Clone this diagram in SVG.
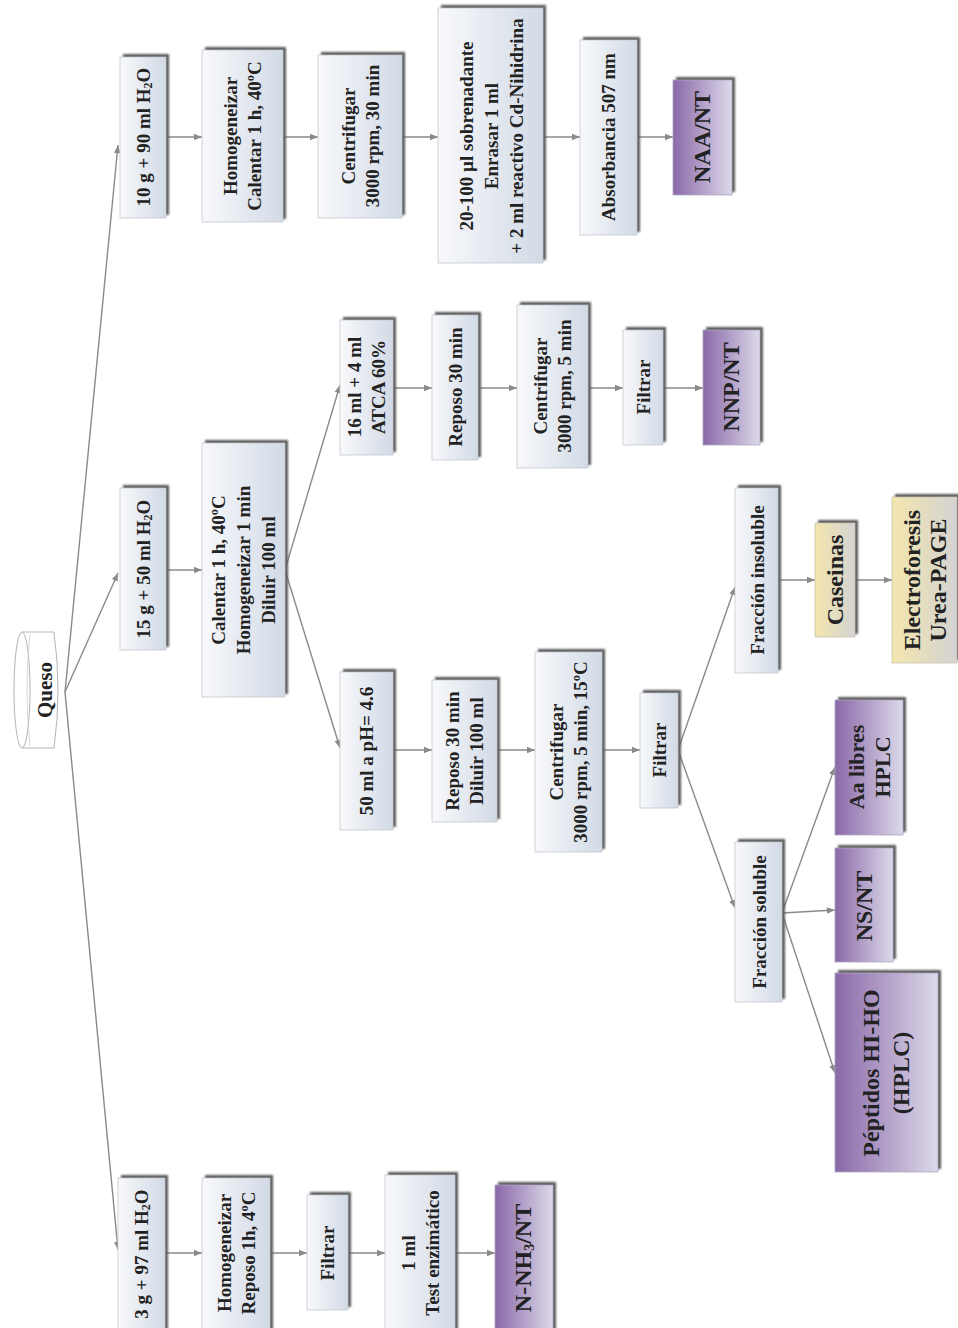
<svg xmlns="http://www.w3.org/2000/svg" width="958" height="1328" viewBox="0 0 958 1328">
<defs>
<linearGradient id="gBox" x1="0" y1="0" x2="1" y2="0">
<stop offset="0" stop-color="#f8f9fb"/><stop offset="1" stop-color="#d2dae6"/>
</linearGradient>
<linearGradient id="gPur" x1="0" y1="0" x2="1" y2="0">
<stop offset="0" stop-color="#8a68a8"/><stop offset="1" stop-color="#dcd9e9"/>
</linearGradient>
<linearGradient id="gYel" x1="0" y1="0" x2="1" y2="0">
<stop offset="0" stop-color="#f4e6ad"/><stop offset="1" stop-color="#d3d3d3"/>
</linearGradient>
<filter id="sh" x="-20%" y="-20%" width="140%" height="140%"><feGaussianBlur stdDeviation="1.2"/></filter>
<marker id="ah" viewBox="0 0 10 10" refX="10" refY="5" markerWidth="9" markerHeight="8" markerUnits="userSpaceOnUse" orient="auto"><path d="M0,1 L10,5 L0,9 z" fill="#8a8a8a"/></marker>
</defs>
<style>
.sd{fill:#5a5a5a;filter:url(#sh)}
.bx{fill:url(#gBox);stroke:#c4c8cf;stroke-width:0.8}
.pu{fill:url(#gPur);stroke:#b0a8c4;stroke-width:0.8}
.ye{fill:url(#gYel);stroke:#c8c4b0;stroke-width:0.8}
text{font-family:"Liberation Serif","DejaVu Serif",serif;font-weight:bold;fill:#222;text-anchor:middle;dominant-baseline:central}
.t{font-size:19px}
.tb{font-size:24px}
.ln{stroke:#8a8a8a;stroke-width:1.4;fill:none}
.ar{marker-end:url(#ah)}
</style>
<rect width="958" height="1328" fill="#ffffff"/>

<g id="connectors">
<line class="ln ar" x1="65" y1="692" x2="118" y2="145"/>
<line class="ln ar" x1="65" y1="692" x2="118" y2="573"/>
<line class="ln ar" x1="65" y1="692" x2="118" y2="1250"/>
<line class="ln ar" x1="166" y1="137" x2="202" y2="137"/>
<line class="ln ar" x1="283" y1="137" x2="318" y2="137"/>
<line class="ln ar" x1="402" y1="137" x2="438" y2="137"/>
<line class="ln ar" x1="543" y1="137" x2="580" y2="137"/>
<line class="ln ar" x1="637" y1="137" x2="673" y2="137"/>
<line class="ln ar" x1="166" y1="570" x2="202" y2="570"/>
<line class="ln ar" x1="285" y1="570" x2="340" y2="385"/>
<line class="ln ar" x1="285" y1="570" x2="340" y2="748"/>
<line class="ln ar" x1="393" y1="388" x2="432" y2="388"/>
<line class="ln ar" x1="478" y1="388" x2="517" y2="388"/>
<line class="ln ar" x1="588" y1="388" x2="623" y2="388"/>
<line class="ln ar" x1="663" y1="388" x2="703" y2="388"/>
<line class="ln ar" x1="393" y1="750" x2="432" y2="750"/>
<line class="ln ar" x1="497" y1="750" x2="535" y2="750"/>
<line class="ln ar" x1="602" y1="750" x2="640" y2="750"/>
<line class="ln ar" x1="678" y1="750" x2="735" y2="587"/>
<line class="ln ar" x1="678" y1="750" x2="735" y2="908"/>
<line class="ln ar" x1="778" y1="580" x2="815" y2="580"/>
<line class="ln ar" x1="855" y1="580" x2="892" y2="580"/>
<line class="ln ar" x1="782" y1="913" x2="835" y2="767"/>
<line class="ln ar" x1="782" y1="913" x2="835" y2="910"/>
<line class="ln ar" x1="782" y1="913" x2="835" y2="1073"/>
<line class="ln ar" x1="165" y1="1253" x2="202" y2="1253"/>
<line class="ln ar" x1="270" y1="1253" x2="307" y2="1253"/>
<line class="ln ar" x1="348" y1="1253" x2="385" y2="1253"/>
<line class="ln ar" x1="455" y1="1253" x2="495" y2="1253"/>
</g>

<g id="queso">
<path d="M22,632 L54,632 Q62,690 54,748 L22,748" fill="#ffffff" stroke="#b5b5b5" stroke-width="1"/>
<ellipse cx="22" cy="690" rx="8" ry="58" fill="#ffffff" stroke="#b5b5b5" stroke-width="1"/>
<path d="M30,634 Q24,690 30,746" fill="none" stroke="#cfcfcf" stroke-width="0.8"/>
<text transform="translate(45,690) rotate(-90)" style="font-size:21px">Queso</text>
</g>

<!-- Branch 1 -->
<g id="n1a">
<rect class="sd" x="123" y="54" width="46" height="161"/><rect class="bx" x="120" y="57" width="46" height="161"/>
<text class="t" transform="translate(143,137) rotate(-90)">10 g + 90 ml H<tspan dy="5" font-size="12">2</tspan><tspan dy="-5">O</tspan></text>
</g>
<g id="n1b">
<rect class="sd" x="205" y="47" width="81" height="172"/><rect class="bx" x="202" y="50" width="81" height="172"/>
<text class="t" transform="translate(242,136) rotate(-90)"><tspan x="0" y="-12">Homogeneizar</tspan><tspan x="0" y="12">Calentar 1 h, 40ºC</tspan></text>
</g>
<g id="n1c">
<rect class="sd" x="321" y="52" width="84" height="163"/><rect class="bx" x="318" y="55" width="84" height="163"/>
<text class="t" transform="translate(360,136) rotate(-90)"><tspan x="0" y="-12">Centrifugar</tspan><tspan x="0" y="12">3000 rpm, 30 min</tspan></text>
</g>
<g id="n1d">
<rect class="sd" x="441" y="5" width="105" height="255"/><rect class="bx" x="438" y="8" width="105" height="255"/>
<text class="t" transform="translate(491,136) rotate(-90)"><tspan x="0" y="-25">20-100 µl sobrenadante</tspan><tspan x="0" y="0">Enrasar 1 ml</tspan><tspan x="0" y="25">+ 2 ml reactivo Cd-Nihidrina</tspan></text>
</g>
<g id="n1e">
<rect class="sd" x="583" y="37" width="57" height="195"/><rect class="bx" x="580" y="40" width="57" height="195"/>
<text class="t" transform="translate(608,137) rotate(-90)">Absorbancia 507 nm</text>
</g>
<g id="n1f">
<rect class="sd" x="676" y="77" width="59" height="115"/><rect class="pu" x="673" y="80" width="59" height="115"/>
<text class="tb" transform="translate(702,137) rotate(-90)">NAA/NT</text>
</g>

<!-- Branch 2 -->
<g id="n2a">
<rect class="sd" x="123" y="485" width="46" height="162"/><rect class="bx" x="120" y="488" width="46" height="162"/>
<text class="t" transform="translate(143,569) rotate(-90)">15 g + 50 ml H<tspan dy="5" font-size="12">2</tspan><tspan dy="-5">O</tspan></text>
</g>
<g id="n2b">
<rect class="sd" x="205" y="440" width="83" height="254"/><rect class="bx" x="202" y="443" width="83" height="254"/>
<text class="t" transform="translate(243,570) rotate(-90)"><tspan x="0" y="-25">Calentar 1 h, 40ºC</tspan><tspan x="0" y="0">Homogeneizar 1 min</tspan><tspan x="0" y="25">Diluir 100 ml</tspan></text>
</g>
<g id="n2c">
<rect class="sd" x="343" y="317" width="53" height="135"/><rect class="bx" x="340" y="320" width="53" height="135"/>
<text class="t" transform="translate(366,387) rotate(-90)"><tspan x="0" y="-12">16 ml + 4 ml</tspan><tspan x="0" y="12">ATCA 60%</tspan></text>
</g>
<g id="n2d">
<rect class="sd" x="435" y="312" width="46" height="145"/><rect class="bx" x="432" y="315" width="46" height="145"/>
<text class="t" transform="translate(455,387) rotate(-90)">Reposo 30 min</text>
</g>
<g id="n2e">
<rect class="sd" x="520" y="302" width="71" height="163"/><rect class="bx" x="517" y="305" width="71" height="163"/>
<text class="t" transform="translate(552,386) rotate(-90)"><tspan x="0" y="-12">Centrifugar</tspan><tspan x="0" y="12">3000 rpm, 5 min</tspan></text>
</g>
<g id="n2f">
<rect class="sd" x="626" y="327" width="40" height="115"/><rect class="bx" x="623" y="330" width="40" height="115"/>
<text class="t" transform="translate(643,387) rotate(-90)">Filtrar</text>
</g>
<g id="n2g">
<rect class="sd" x="706" y="327" width="57" height="115"/><rect class="pu" x="703" y="330" width="57" height="115"/>
<text class="tb" transform="translate(731,387) rotate(-90)">NNP/NT</text>
</g>

<g id="n3a">
<rect class="sd" x="343" y="669" width="53" height="158"/><rect class="bx" x="340" y="672" width="53" height="158"/>
<text class="t" transform="translate(366,751) rotate(-90)">50 ml a pH= 4.6</text>
</g>
<g id="n3b">
<rect class="sd" x="435" y="677" width="65" height="142"/><rect class="bx" x="432" y="680" width="65" height="142"/>
<text class="t" transform="translate(464,751) rotate(-90)"><tspan x="0" y="-12">Reposo 30 min</tspan><tspan x="0" y="12">Diluir 100 ml</tspan></text>
</g>
<g id="n3c">
<rect class="sd" x="538" y="649" width="67" height="200"/><rect class="bx" x="535" y="652" width="67" height="200"/>
<text class="t" transform="translate(568,752) rotate(-90)"><tspan x="0" y="-12">Centrifugar</tspan><tspan x="0" y="12">3000 rpm, 5 min, 15ºC</tspan></text>
</g>
<g id="n3d">
<rect class="sd" x="643" y="690" width="38" height="115"/><rect class="bx" x="640" y="693" width="38" height="115"/>
<text class="t" transform="translate(659,750) rotate(-90)">Filtrar</text>
</g>

<g id="n4a">
<rect class="sd" x="738" y="485" width="43" height="185"/><rect class="bx" x="735" y="488" width="43" height="185"/>
<text class="t" transform="translate(757,580) rotate(-90)">Fracción insoluble</text>
</g>
<g id="n4b">
<rect class="sd" x="818" y="520" width="40" height="114"/><rect class="ye" x="815" y="523" width="40" height="114"/>
<text class="tb" transform="translate(835,580) rotate(-90)">Caseinas</text>
</g>
<g id="n4c">
<rect class="sd" x="895" y="494" width="65" height="166"/><rect class="ye" x="892" y="497" width="65" height="166"/>
<text class="tb" transform="translate(925,580) rotate(-90)"><tspan x="0" y="-13">Electroforesis</tspan><tspan x="0" y="13">Urea-PAGE</tspan></text>
</g>

<g id="n5a">
<rect class="sd" x="738" y="839" width="47" height="160"/><rect class="bx" x="735" y="842" width="47" height="160"/>
<text class="t" transform="translate(759,922) rotate(-90)">Fracción soluble</text>
</g>
<g id="n5b">
<rect class="sd" x="838" y="697" width="68" height="135"/><rect class="pu" x="835" y="700" width="68" height="135"/>
<text class="tb" transform="translate(869,767) rotate(-90)" style="font-size:22px"><tspan x="0" y="-13">Aa libres</tspan><tspan x="0" y="13">HPLC</tspan></text>
</g>
<g id="n5c">
<rect class="sd" x="838" y="845" width="58" height="114"/><rect class="pu" x="835" y="848" width="58" height="114"/>
<text class="tb" transform="translate(864,906) rotate(-90)">NS/NT</text>
</g>
<g id="n5d">
<rect class="sd" x="838" y="970" width="103" height="199"/><rect class="pu" x="835" y="973" width="103" height="199"/>
<text class="tb" transform="translate(886,1073) rotate(-90)"><tspan x="0" y="-15">Péptidos HI-HO</tspan><tspan x="0" y="15">(HPLC)</tspan></text>
</g>

<!-- Branch 3 -->
<g id="n6a">
<rect class="sd" x="121" y="1175" width="47" height="165"/><rect class="bx" x="118" y="1178" width="47" height="165"/>
<text class="t" transform="translate(141,1254) rotate(-90)">3 g + 97 ml H<tspan dy="5" font-size="12">2</tspan><tspan dy="-5">O</tspan></text>
</g>
<g id="n6b">
<rect class="sd" x="205" y="1175" width="68" height="165"/><rect class="bx" x="202" y="1178" width="68" height="165"/>
<text class="t" transform="translate(236,1253) rotate(-90)"><tspan x="0" y="-12">Homogeneizar</tspan><tspan x="0" y="12">Reposo 1h, 4ºC</tspan></text>
</g>
<g id="n6c">
<rect class="sd" x="310" y="1192" width="41" height="115"/><rect class="bx" x="307" y="1195" width="41" height="115"/>
<text class="t" transform="translate(327,1253) rotate(-90)">Filtrar</text>
</g>
<g id="n6d">
<rect class="sd" x="388" y="1172" width="70" height="170"/><rect class="bx" x="385" y="1175" width="70" height="170"/>
<text class="t" transform="translate(420,1253) rotate(-90)"><tspan x="0" y="-12">1 ml</tspan><tspan x="0" y="12">Test enzimático</tspan></text>
</g>
<g id="n6e">
<rect class="sd" x="498" y="1182" width="58" height="160"/><rect class="pu" x="495" y="1185" width="58" height="160"/>
<text class="tb" transform="translate(523,1258) rotate(-90)">N-NH<tspan dy="6" font-size="14">3</tspan><tspan dy="-6">/NT</tspan></text>
</g>
</svg>
